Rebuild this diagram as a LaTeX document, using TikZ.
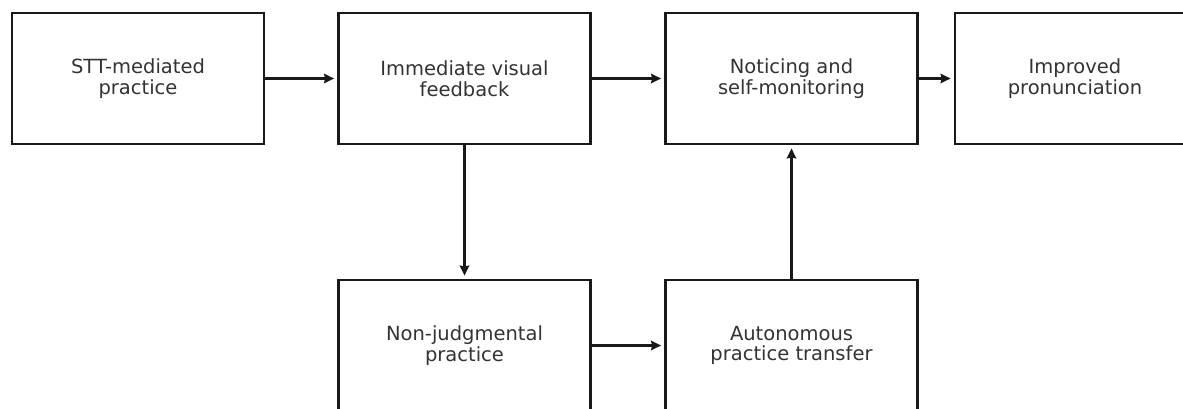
\documentclass[tikz,border=0pt]{standalone}
\usepackage{fontspec}
\setmainfont{DejaVu Sans}
\usetikzlibrary{arrows.meta}
\begin{document}
\begin{tikzpicture}[x=1pt,y=-1pt,
  box/.style={draw=black!90, line width=2.8pt, minimum width=252pt, minimum height=131pt,
    inner sep=0pt, align=center, text=black!80, font=\fontsize{19.5}{20.5}\selectfont},
  arr/.style={line width=2.2pt, draw=black!90, -{Stealth[length=10pt,width=9.5pt,inset=1pt]}, shorten >=3pt}]
\useasboundingbox[fill=white] (0,0) rectangle (1183,409);
\node[box] (b1) at (138,78.5) {STT-mediated\\practice};
\node[box] (b2) at (464.5,78.5) {Immediate visual\\feedback};
\node[box] (b3) at (791.5,78.5) {Noticing and\\self-monitoring};
\node[box, minimum width=240pt] (b4) at (1075,78.5) {Improved\\pronunciation};
\node[box] (b5) at (464.5,345.5) {Non-judgmental\\practice};
\node[box] (b6) at (791.5,345.5) {Autonomous\\practice transfer};
\draw[arr] (b1) -- (b2);
\draw[arr] (b2) -- (b3);
\draw[arr] (b3) -- (b4);
\draw[arr] (b5) -- (b6);
\draw[arr] (b2) -- (b5);
\draw[arr] (b6) -- (b3);
\end{tikzpicture}
\end{document}
